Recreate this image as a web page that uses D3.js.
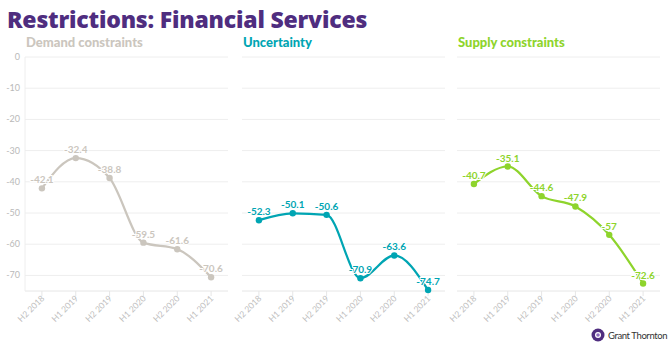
<!DOCTYPE html>
<html lang="en">
<head>
<meta charset="UTF-8" />
<script src="https://d3js.org/d3.v7.min.js"></script>
<style>
  body { margin: 0; background: #fff; font-family: Lato, "Open Sans", sans-serif; }
  svg { display: block; }
</style>
</head>
<body>
<svg id="chart" width="672" height="346"></svg>
<script>
  // periods on the x axis, shared by the three panels
  const periods = ["H2 2018", "H1 2019", "H2 2019", "H1 2020", "H2 2020", "H1 2021"];
  const yTicks = [0, -10, -20, -30, -40, -50, -60, -70];

  const demand = [-42.1, -32.4, -38.8, -59.5, -61.6, -70.6];
  const uncertainty = [-52.3, -50.1, -50.6, -70.9, -63.6, -74.7];
  const supply = [-40.7, -35.1, -44.6, -47.9, -57, -72.6];

  const panels = [
    { title: "Demand constraints", values: demand, color: "#cbc6be", left: 25 },
    { title: "Uncertainty", values: uncertainty, color: "#00a5b3", left: 242 },
    { title: "Supply constraints", values: supply, color: "#8ed42c", left: 457 }
  ];

  const panelW = 203, plotTop = 57, plotBottom = 291;
  const svg = d3.select("#chart");

  svg.append("text")
    .attr("x", 7).attr("y", 28)
    .attr("fill", "#4f2d7f")
    .attr("font-family", "'Open Sans', sans-serif")
    .attr("font-size", 23).attr("font-weight", 800)
    .attr("letter-spacing", -0.2)
    .text("Restrictions: Financial Services");

  const y = d3.scaleLinear().domain([-75, 0]).range([plotBottom, plotTop]);

  // y tick labels only on the left
  svg.append("g")
    .selectAll("text")
    .data(yTicks)
    .join("text")
    .attr("x", 20).attr("y", d => y(d) + 3)
    .attr("text-anchor", "end")
    .attr("fill", "#b9b9b9").attr("font-size", 9)
    .text(d => d);

  panels.forEach((p, i) => {
    const x = d3.scalePoint().domain(periods).range([p.left, p.left + panelW]).padding(0.5);
    const g = svg.append("g");

    g.append("text")
      .attr("x", p.left + 1).attr("y", 47)
      .attr("fill", p.color)
      .attr("font-size", 13).attr("font-weight", 900)
      .text(p.title);

    // grid
    g.append("g")
      .selectAll("line")
      .data(yTicks)
      .join("line")
      .attr("x1", p.left).attr("x2", p.left + panelW)
      .attr("y1", d => y(d)).attr("y2", d => y(d))
      .attr("stroke", "#eeeeee").attr("stroke-width", 1);

    // bottom axis
    g.append("line")
      .attr("x1", p.left).attr("x2", p.left + panelW)
      .attr("y1", plotBottom).attr("y2", plotBottom)
      .attr("stroke", "#e6e6e6");
    if (i === 0) {
      g.append("line")
        .attr("x1", p.left).attr("x2", p.left)
        .attr("y1", plotTop).attr("y2", plotBottom)
        .attr("stroke", "#eeeeee");
    }
    g.append("g")
      .selectAll("line")
      .data(periods)
      .join("line")
      .attr("x1", d => x(d)).attr("x2", d => x(d))
      .attr("y1", plotBottom).attr("y2", plotBottom + 5)
      .attr("stroke", "#e6e6e6");

    g.append("g")
      .selectAll("text")
      .data(periods)
      .join("text")
      .attr("transform", d => `translate(${x(d) + 3},${plotBottom + 8}) rotate(-45)`)
      .attr("text-anchor", "end")
      .attr("fill", "#bdbdbd").attr("font-size", 8.5)
      .text(d => d);

    const pts = p.values.map((v, j) => ({ p: periods[j], v }));

    const line = d3.line()
      .x(d => x(d.p)).y(d => y(d.v))
      .curve(d3.curveMonotoneX);

    g.append("path")
      .datum(pts)
      .attr("d", line)
      .attr("fill", "none")
      .attr("stroke", p.color).attr("stroke-width", 2.2);

    g.append("g")
      .selectAll("circle")
      .data(pts)
      .join("circle")
      .attr("cx", d => x(d.p)).attr("cy", d => y(d.v))
      .attr("r", 3.2)
      .attr("fill", p.color);

    g.append("g")
      .selectAll("text")
      .data(pts)
      .join("text")
      .attr("x", d => x(d.p)).attr("y", d => y(d.v) - 5)
      .attr("text-anchor", "middle")
      .attr("fill", p.color).attr("font-size", 10).attr("font-weight", 700)
      .attr("stroke", "#fff").attr("stroke-width", 2).attr("paint-order", "stroke")
      .text(d => d.v);
  });

  // logo
  const logo = svg.append("g").attr("transform", "translate(598,335)");
  logo.append("circle").attr("r", 6.5).attr("fill", "#4f2d7f");
  logo.append("circle").attr("r", 3).attr("fill", "#fff");
  logo.append("circle").attr("r", 1.8).attr("fill", "#8e6bbf");
  svg.append("text")
    .attr("x", 608).attr("y", 339)
    .attr("fill", "#333").attr("font-size", 9.5).attr("letter-spacing", -0.4)
    .text("Grant Thornton");
</script>
</body>
</html>
